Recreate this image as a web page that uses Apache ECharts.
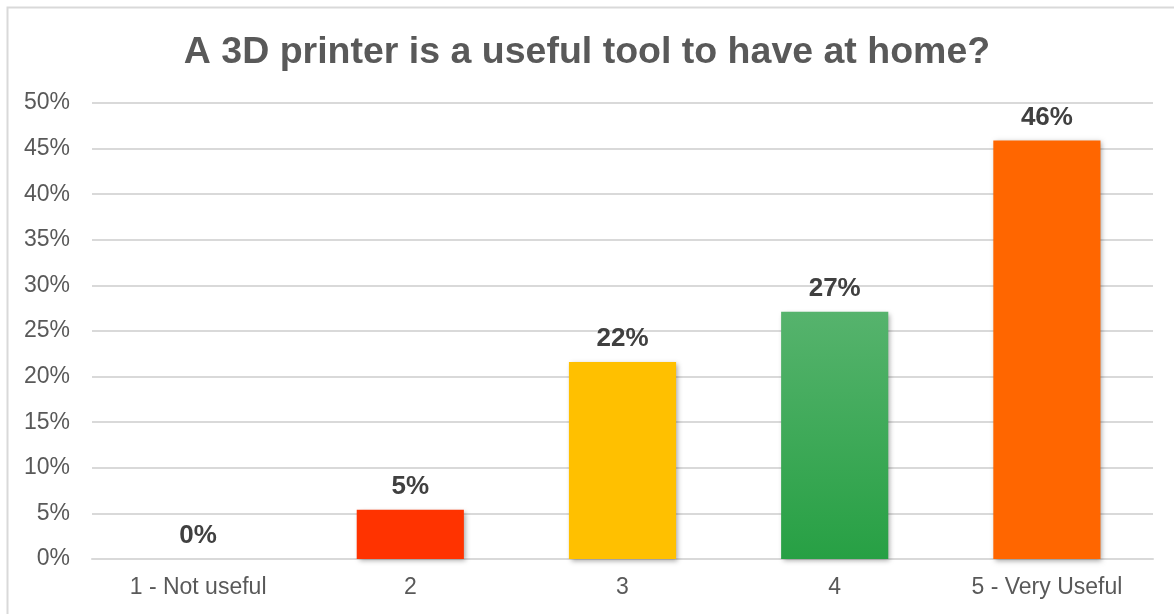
<!DOCTYPE html>
<html>
<head>
<meta charset="utf-8">
<script src="https://cdn.jsdelivr.net/npm/echarts@6/dist/echarts.min.js"></script>
<style>
  html, body { margin: 0; padding: 0; background: #ffffff; }
  #chart { width: 1174px; height: 614px; }
</style>
</head>
<body>
<div id="chart"></div>
<script>
// Survey answers: share of respondents per rating
const categories = ['1 - Not useful', '2', '3', '4', '5 - Very Useful'];
const shares = [0, 5.4, 21.6, 27.1, 45.9];
const shareLabels = ['0%', '5%', '22%', '27%', '46%'];
const barColors = [
  '#FF3300',
  '#FF3300',
  '#FFC000',
  { type: 'linear', x: 0, y: 0, x2: 0, y2: 1,
    colorStops: [{ offset: 0, color: '#56B36D' }, { offset: 1, color: '#27A044' }] },
  '#FF6600'
];

const chart = echarts.init(document.getElementById('chart'), null, { renderer: 'canvas' });

chart.setOption({
  backgroundColor: '#ffffff',
  animation: false,
  graphic: [{
    type: 'rect',
    left: 5, top: 5,
    shape: { width: 1200, height: 640 },
    style: { fill: 'none', stroke: '#D9D9D9', lineWidth: 2 },
    silent: true,
    z: -1
  }],
  title: {
    text: 'A 3D printer is a useful tool to have at home?',
    left: 'center',
    top: 29,
    textStyle: {
      fontFamily: 'Liberation Sans, Arial, sans-serif',
      fontSize: 37.5,
      fontWeight: 'bold',
      color: '#595959'
    }
  },
  grid: { left: 92, right: 21, top: 103, bottom: 55, containLabel: false },
  xAxis: {
    type: 'category',
    data: categories,
    axisLine: { show: true, lineStyle: { color: '#D9D9D9', width: 2 } },
    axisTick: { show: false },
    axisLabel: {
      margin: 17,
      fontFamily: 'Liberation Sans, Arial, sans-serif',
      fontSize: 23,
      color: '#595959'
    }
  },
  yAxis: {
    type: 'value',
    min: 0, max: 50, interval: 5,
    axisLine: { show: false },
    axisTick: { show: false },
    splitLine: { lineStyle: { color: '#D9D9D9', width: 2 } },
    axisLabel: {
      margin: 22,
      formatter: '{value}%',
      fontFamily: 'Liberation Sans, Arial, sans-serif',
      fontSize: 23,
      color: '#595959'
    }
  },
  series: [{
    type: 'bar',
    barWidth: '50.5%',
    data: shares.map((v, i) => ({
      value: v,
      itemStyle: {
        color: barColors[i],
        shadowBlur: 5,
        shadowOffsetX: 2,
        shadowOffsetY: 2,
        shadowColor: 'rgba(0,0,0,0.35)'
      }
    })),
    label: {
      show: true,
      position: 'top',
      distance: 10,
      formatter: p => shareLabels[p.dataIndex],
      fontFamily: 'Liberation Sans, Arial, sans-serif',
      fontSize: 26,
      fontWeight: 'bold',
      color: '#404040'
    }
  }]
});
</script>
</body>
</html>
